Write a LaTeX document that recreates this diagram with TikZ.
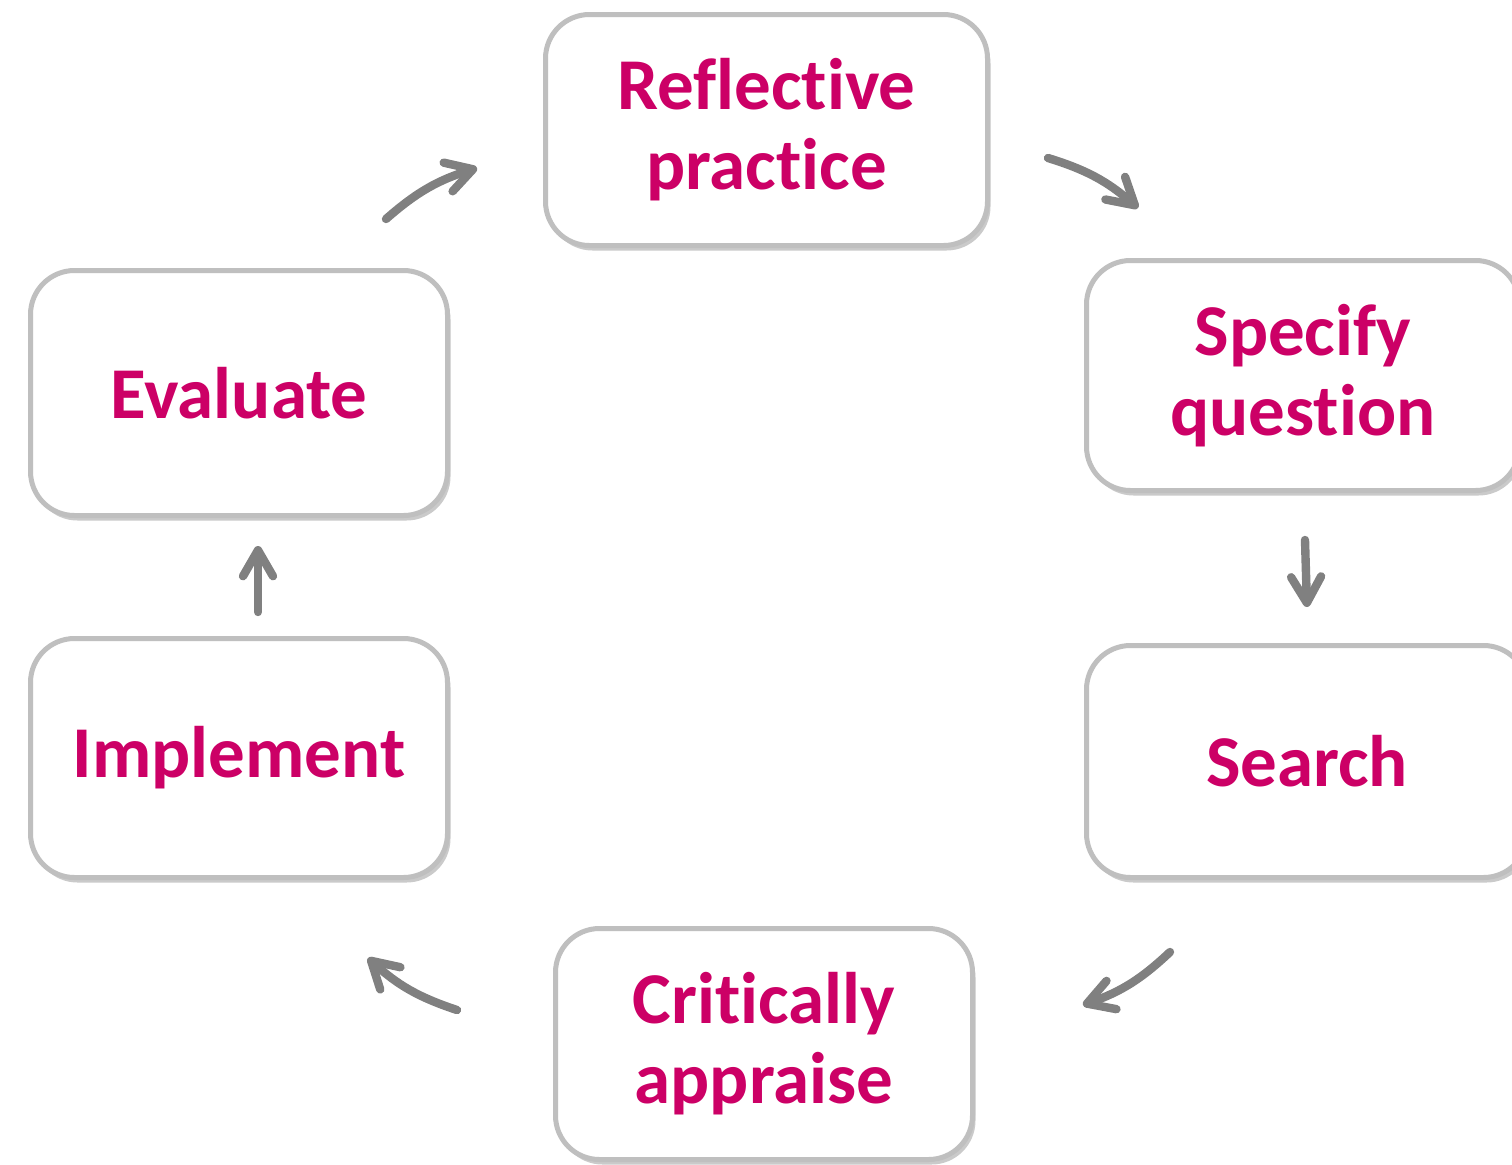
\documentclass[tikz,border=0pt]{standalone}
\usepackage{fontspec}
\setmainfont[Ligatures={NoCommon}]{Carlito}
\usetikzlibrary{arrows.meta,shadows}
\definecolor{stepred}{RGB}{204,0,102}
\definecolor{boxgray}{RGB}{191,191,191}
\definecolor{arrowgray}{RGB}{128,128,128}
\tikzset{
  stage/.style={draw=boxgray, line width=2.5pt, fill=white, rounded corners=22pt,
    inner sep=0pt, align=center, text=stepred,
    font=\fontsize{36.5}{40}\selectfont\bfseries,
    drop shadow={shadow xshift=1.5pt, shadow yshift=-2.5pt, opacity=0.35, fill=black!60}},
  cyc/.style={draw=arrowgray, line width=4.2pt, line cap=round,
    -{Straight Barb[length=13pt,width=15pt,line width=0pt 1,round]}}
}
\begin{document}
\begin{tikzpicture}[x=0.5pt, y=-0.5pt]
      \useasboundingbox (0,0) rectangle (1512,1164);
      \node[stage, minimum width=221pt, minimum height=115.5pt] (rp) at (766.5,130) {Reflective\\practice};
      \node[stage, minimum width=216.5pt, minimum height=115pt] (sq) at (1303,375.5) {Specify\\question};
      \node[stage, minimum width=220.5pt, minimum height=116pt] (se) at (1307,761.5) {Search};
      \node[stage, minimum width=208.5pt, minimum height=115.5pt] (ca) at (764,1044) {Critically\\appraise};
      \node[stage, minimum width=208.5pt, minimum height=119.5pt] (im) at (239,758) {Implement};
      \node[stage, minimum width=208.5pt, minimum height=122.5pt] (ev) at (239,393) {Evaluate};
      % arrow ends
      \coordinate (rp-out) at (1048,158);
      \coordinate (sq-in) at (1138,208);
      \coordinate (sq-out) at (1305,540);
      \coordinate (se-in) at (1307,607);
      \coordinate (se-out) at (1170,952);
      \coordinate (ca-in) at (1083,1005);
      \coordinate (ca-out) at (457,1010);
      \coordinate (im-in) at (368,958);
      \coordinate (im-out) at (258,612);
      \coordinate (ev-in) at (258,546);
      \coordinate (ev-out) at (386,219);
      \coordinate (rp-in) at (477,168);
      \begin{scope}[cyc]
        \draw (rp-out) to[bend left=12] (sq-in);
        \draw (sq-out) to (se-in);
        \draw (se-out) to[bend left=12] (ca-in);
        \draw (ca-out) to[bend left=12] (im-in);
        \draw (im-out) to (ev-in);
        \draw (ev-out) to[bend left=12] (rp-in);
      \end{scope}
    \end{tikzpicture}
\end{document}
